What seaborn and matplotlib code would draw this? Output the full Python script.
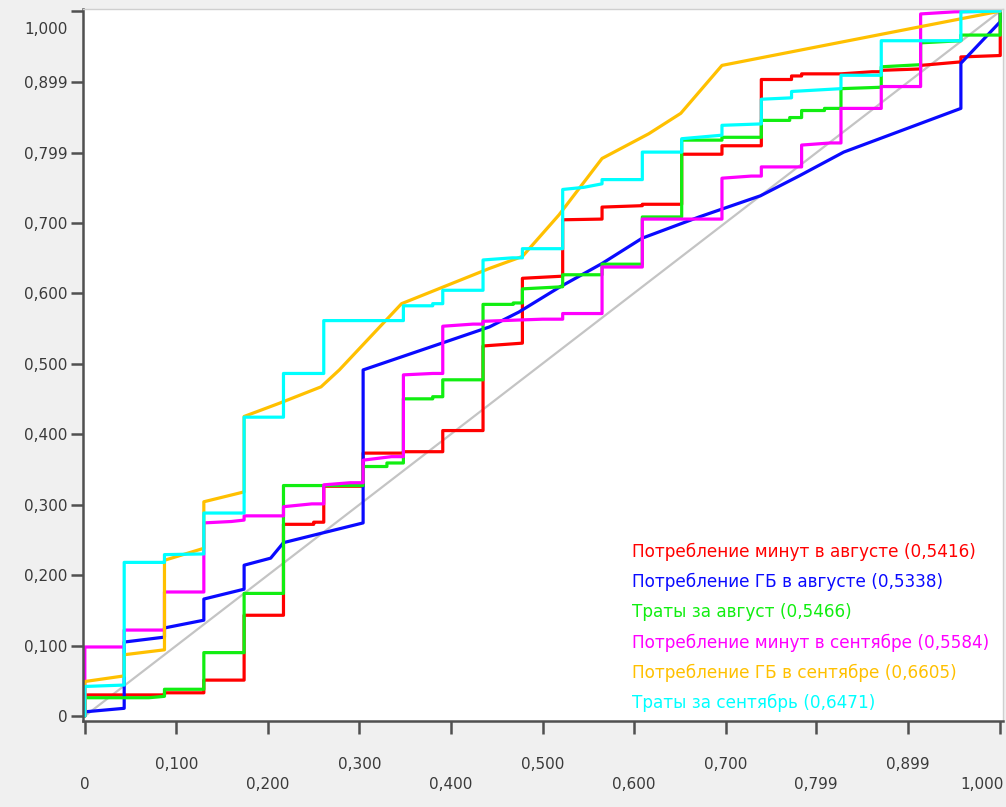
import matplotlib
matplotlib.use("Agg")
import matplotlib.pyplot as plt
import seaborn as sns
import pandas as pd
from matplotlib.transforms import ScaledTranslation

# ---- data ----
labels = [
    "Потребление минут в августе (0,5416)",
    "Потребление ГБ в августе (0,5338)",
    "Траты за август (0,5466)",
    "Потребление минут в сентябре (0,5584)",
    "Потребление ГБ в сентябре (0,6605)",
    "Траты за сентябрь (0,6471)",
]
colors = ["#ff0000", "#0a0aff", "#11ee11", "#ff00ff", "#ffc000", "#00ffff"]

red_pts = [(0, 0), (0, 0.030), (0.087, 0.030), (0.087, 0.033), (0.130, 0.033), (0.130, 0.051),
           (0.174, 0.051), (0.174, 0.143), (0.217, 0.143), (0.217, 0.272), (0.250, 0.272),
           (0.250, 0.275), (0.261, 0.275), (0.261, 0.326), (0.304, 0.326), (0.304, 0.373),
           (0.348, 0.373), (0.348, 0.375), (0.391, 0.375), (0.391, 0.405), (0.435, 0.405),
           (0.435, 0.525), (0.478, 0.529), (0.478, 0.621), (0.522, 0.624), (0.522, 0.704),
           (0.565, 0.705), (0.565, 0.722), (0.609, 0.724), (0.609, 0.726), (0.652, 0.726),
           (0.652, 0.797), (0.696, 0.797), (0.696, 0.809), (0.739, 0.809), (0.739, 0.903),
           (0.772, 0.903), (0.772, 0.908), (0.783, 0.908), (0.783, 0.911), (0.826, 0.911),
           (0.860, 0.914), (0.870, 0.914), (0.870, 0.916), (0.913, 0.918), (0.913, 0.923),
           (0.957, 0.928), (0.957, 0.935), (1.0, 0.937), (1.0, 1.0)]

blue_pts = [(0, 0), (0, 0.006), (0.043, 0.011), (0.043, 0.105), (0.087, 0.112), (0.087, 0.125),
            (0.130, 0.136), (0.130, 0.166), (0.174, 0.180), (0.174, 0.214), (0.203, 0.224),
            (0.217, 0.246), (0.304, 0.274), (0.304, 0.491), (0.390, 0.529), (0.442, 0.552),
            (0.474, 0.573), (0.518, 0.608), (0.565, 0.642), (0.609, 0.678), (0.671, 0.708),
            (0.738, 0.738), (0.780, 0.766), (0.829, 0.800), (0.957, 0.862), (0.957, 0.926),
            (1.0, 0.985), (1.0, 1.0)]

green_pts = [(0, 0), (0, 0.026), (0.070, 0.026), (0.087, 0.028), (0.087, 0.038), (0.130, 0.038),
             (0.130, 0.090), (0.174, 0.090), (0.174, 0.174), (0.217, 0.174), (0.217, 0.327),
             (0.304, 0.327), (0.304, 0.354), (0.330, 0.354), (0.330, 0.359), (0.348, 0.359),
             (0.348, 0.450), (0.380, 0.450), (0.380, 0.453), (0.391, 0.453), (0.391, 0.477),
             (0.435, 0.477), (0.435, 0.584), (0.468, 0.584), (0.468, 0.586), (0.478, 0.586),
             (0.478, 0.606), (0.522, 0.609), (0.522, 0.626), (0.565, 0.626), (0.565, 0.641),
             (0.609, 0.641), (0.609, 0.708), (0.652, 0.708), (0.652, 0.817), (0.696, 0.817),
             (0.696, 0.821), (0.739, 0.821), (0.739, 0.845), (0.770, 0.845), (0.770, 0.849),
             (0.783, 0.849), (0.783, 0.859), (0.808, 0.859), (0.808, 0.862), (0.826, 0.862),
             (0.826, 0.890), (0.870, 0.892), (0.870, 0.921), (0.913, 0.924), (0.913, 0.955),
             (0.957, 0.958), (0.957, 0.966), (1.0, 0.966), (1.0, 1.0)]

magenta_pts = [(0, 0), (0, 0.098), (0.043, 0.098), (0.043, 0.122), (0.087, 0.122), (0.087, 0.176),
               (0.130, 0.176), (0.130, 0.274), (0.160, 0.276), (0.174, 0.278), (0.174, 0.284),
               (0.217, 0.284), (0.217, 0.297), (0.248, 0.301), (0.261, 0.301), (0.261, 0.328),
               (0.290, 0.331), (0.304, 0.331), (0.304, 0.363), (0.335, 0.368), (0.348, 0.368),
               (0.348, 0.484), (0.380, 0.486), (0.391, 0.486), (0.391, 0.553), (0.424, 0.556),
               (0.435, 0.556), (0.435, 0.560), (0.500, 0.563), (0.522, 0.563), (0.522, 0.571),
               (0.565, 0.571), (0.565, 0.637), (0.609, 0.637), (0.609, 0.705), (0.696, 0.705),
               (0.696, 0.763), (0.728, 0.766), (0.739, 0.766), (0.739, 0.779), (0.783, 0.779),
               (0.783, 0.810), (0.815, 0.813), (0.826, 0.813), (0.826, 0.862), (0.870, 0.862),
               (0.870, 0.893), (0.913, 0.893), (0.913, 0.996), (0.950, 0.999), (1.0, 1.0)]

orange_pts = [(0, 0), (0, 0.049), (0.043, 0.057), (0.043, 0.087), (0.087, 0.094), (0.087, 0.221),
              (0.130, 0.238), (0.130, 0.304), (0.174, 0.318), (0.174, 0.425), (0.213, 0.444),
              (0.258, 0.467), (0.278, 0.491), (0.346, 0.585), (0.442, 0.635), (0.478, 0.652),
              (0.518, 0.711), (0.565, 0.791), (0.616, 0.826), (0.651, 0.855), (0.696, 0.923),
              (1.0, 1.0)]

cyan_pts = [(0, 0), (0, 0.042), (0.043, 0.044), (0.043, 0.218), (0.087, 0.218), (0.087, 0.229),
            (0.130, 0.230), (0.130, 0.288), (0.174, 0.288), (0.174, 0.424), (0.217, 0.424),
            (0.217, 0.486), (0.261, 0.486), (0.261, 0.561), (0.348, 0.561), (0.348, 0.582),
            (0.380, 0.582), (0.380, 0.585), (0.391, 0.585), (0.391, 0.604), (0.435, 0.604),
            (0.435, 0.647), (0.467, 0.650), (0.478, 0.650), (0.478, 0.663), (0.522, 0.663),
            (0.522, 0.747), (0.545, 0.750), (0.565, 0.755), (0.565, 0.761), (0.609, 0.761),
            (0.609, 0.800), (0.652, 0.800), (0.652, 0.819), (0.696, 0.824), (0.696, 0.838),
            (0.739, 0.840), (0.739, 0.875), (0.772, 0.877), (0.772, 0.886), (0.826, 0.890),
            (0.826, 0.909), (0.870, 0.909), (0.870, 0.958), (0.957, 0.958), (0.957, 0.999),
            (1.0, 1.0)]

diag = [(0, 0), (1.0, 1.0)]

tick_vals = [0, 0.1, 0.2, 0.3, 0.4, 0.5, 0.6, 0.7, 0.799, 0.899, 1.0]
tick_labels = ["0", "0,100", "0,200", "0,300", "0,400", "0,500", "0,600", "0,700",
               "0,799", "0,899", "1,000"]

# ---- drawing ----
sns.set_theme(style="white")
plt.rcParams["font.family"] = ["DejaVu Sans"]

fig = plt.figure(figsize=(10.06, 8.07), dpi=100, facecolor="#f0f0f0")
ax = fig.add_axes([83 / 1006, 1 - 721 / 807, 920 / 1006, 712 / 807])
ax.set_facecolor("white")

dd = pd.DataFrame(diag, columns=["x", "y"])
sns.lineplot(data=dd, x="x", y="y", sort=False, estimator=None, color="#c4c4c4",
             linewidth=1.6, ax=ax)

series = [red_pts, blue_pts, green_pts, magenta_pts, orange_pts, cyan_pts]
handles = []
for pts, col, lab in zip(series, colors, labels):
    df = pd.DataFrame(pts, columns=["x", "y"])
    sns.lineplot(data=df, x="x", y="y", sort=False, estimator=None, color=col,
                 linewidth=2.3, ax=ax)
    handles.append(ax.lines[-1])

ax.set_xlim(-0.002, 1.003)
ax.set_ylim(-0.007, 1.003)
ax.set_xlabel("")
ax.set_ylabel("")

ax.set_xticks(tick_vals)
ax.set_xticklabels(tick_labels)
ax.set_yticks(tick_vals)
ax.set_yticklabels(tick_labels)

for s in ["left", "bottom"]:
    ax.spines[s].set_color("#505050")
    ax.spines[s].set_linewidth(1.8)
for s in ["top", "right"]:
    ax.spines[s].set_color("#cfcfcf")
    ax.spines[s].set_linewidth(1.0)

ax.tick_params(axis="both", direction="out", length=9, width=1.8, color="#505050",
               labelsize=11, labelcolor="#3a3a3a", left=True, bottom=True)
ax.tick_params(axis="y", pad=2)

# staggered x labels
for i, t in enumerate(ax.xaxis.get_major_ticks()):
    t.set_pad(17 if i % 2 == 1 else 31)

# last x label kept inside the figure
xlab = ax.get_xticklabels()[-1]
xlab.set_horizontalalignment("right")
xlab.set_transform(xlab.get_transform() + ScaledTranslation(3 / 100, 0, fig.dpi_scale_trans))

# top y label is shifted down inside the figure
ylab = ax.get_yticklabels()[-1]
ylab.set_transform(ylab.get_transform() + ScaledTranslation(0, -17 / 100, fig.dpi_scale_trans))

leg = ax.legend(handles, labels, loc="lower left", bbox_to_anchor=(0.597, 0.012),
                frameon=False, handlelength=0, handletextpad=0, labelcolor="linecolor",
                fontsize=12.2, borderpad=0, borderaxespad=0, labelspacing=0.72)
for h in leg.legend_handles:
    h.set_visible(False)

fig.savefig("out.png", dpi=100, facecolor=fig.get_facecolor())
